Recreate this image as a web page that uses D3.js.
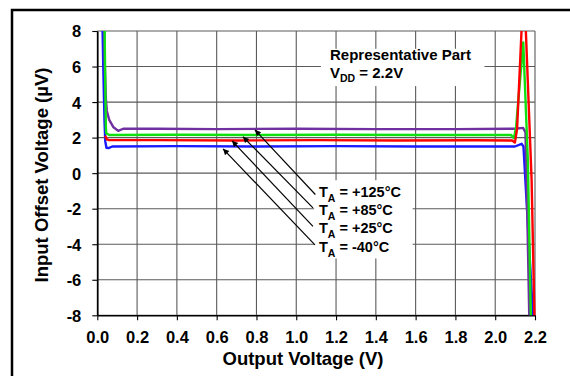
<!DOCTYPE html>
<html><head><meta charset="utf-8">
<script src="https://cdn.jsdelivr.net/npm/d3@7"></script>
<style>body{margin:0;background:#fff}svg{display:block;font-family:"Liberation Sans",Arial,sans-serif;font-weight:bold}</style>
</head><body>
<svg id="c" width="570" height="376"></svg>
<script>
const xTicks = [0.0,0.2,0.4,0.6,0.8,1.0,1.2,1.4,1.6,1.8,2.0,2.2];
const yTicks = [-8,-6,-4,-2,0,2,4,6,8];
const seriesNames = ["T125","T85","T25","Tm40"];
const seriesColors = ["#7030a0","#10e010","#ff0000","#1a1aff"];
const legendTemps = ["+125°C","+85°C","+25°C","-40°C"];
// [Vout, Vos µV]
const s125 = [[0.034,9],[0.038,6],[0.043,4.2],[0.048,3.5],[0.06,3.0],[0.08,2.6],[0.105,2.38],[0.13,2.5],[0.3,2.5],[0.6,2.48],[1.0,2.5],[1.4,2.48],[1.8,2.48],[2.1,2.5],[2.14,2.55],[2.152,2.3],[2.158,-0.4],[2.171,-8],[2.173,-9]];
const s85  = [[0.036,9],[0.04,5],[0.043,2.6],[0.045,2.25],[0.06,2.15],[0.4,2.16],[0.8,2.15],[1.2,2.16],[1.6,2.15],[2.08,2.15],[2.094,1.97],[2.105,2.6],[2.141,7.36],[2.164,0.75],[2.179,-8],[2.182,-9]];
const s25  = [[0.04,2.1],[0.048,1.9],[0.06,1.86],[0.3,1.86],[0.7,1.84],[1.1,1.86],[1.5,1.84],[1.9,1.85],[2.085,1.84],[2.099,1.72],[2.11,2.5],[2.133,8.2],[2.143,9],[2.154,8],[2.183,-0.4],[2.197,-8],[2.2,-9]];
const sm40 = [[0.025,9],[0.03,6],[0.036,3],[0.04,1.8],[0.046,1.43],[0.056,1.41],[0.075,1.5],[0.4,1.52],[0.8,1.5],[1.2,1.52],[1.6,1.5],[2.099,1.5],[2.133,1.65],[2.142,1.5],[2.19,-8],[2.195,-9]];
const seriesData = [s125, s85, s25, sm40];
// arrows: [start V, start µV, tip V, tip µV]
const arrows = [[1.096,-1.2,0.792,2.44],[1.084,-1.95,0.732,2.05],[1.084,-3.0,0.677,1.82],[1.094,-4.04,0.632,1.37]];

const svg = d3.select("#c");
const m = {l:97.3, r:535, t:31, b:315.3};
const x = d3.scaleLinear().domain([0,2.2]).range([m.l,m.r]);
const y = d3.scaleLinear().domain([-8,8]).range([m.b,m.t]);

// outer frame
svg.append("rect").attr("x",12).attr("y",10).attr("width",620).attr("height",420)
  .attr("fill","none").attr("stroke","#000").attr("stroke-width",2.5);

// grid
const g = svg.append("g");
g.selectAll("line.vx").data(xTicks).join("line")
  .attr("x1",d=>x(d)).attr("x2",d=>x(d)).attr("y1",m.t).attr("y2",m.b)
  .attr("stroke","#5a5a5a").attr("stroke-width",1.1);
g.selectAll("line.hy").data(yTicks).join("line")
  .attr("y1",d=>y(d)).attr("y2",d=>y(d)).attr("x1",m.l).attr("x2",m.r)
  .attr("stroke","#5a5a5a").attr("stroke-width",1.1);

// white boxes behind annotation text
svg.append("rect").attr("x",x(1.124)).attr("y",y(7.0)).attr("width",x(1.946)-x(1.124)).attr("height",y(4.9)-y(7.0)).attr("fill","#fff");
svg.append("rect").attr("x",x(1.09)).attr("y",y(-0.4)).attr("width",x(1.585)-x(1.09)).attr("height",y(-4.8)-y(-0.4)).attr("fill","#fff");

// axes
const xa = svg.append("g").attr("transform",`translate(0,${m.b})`)
  .call(d3.axisBottom(x).tickValues(xTicks).tickFormat(d3.format(".1f")).tickSize(5).tickSizeOuter(0));
const ya = svg.append("g").attr("transform",`translate(${m.l},0)`)
  .call(d3.axisLeft(y).tickValues(yTicks).tickFormat(d=>String(d)).tickSize(5).tickSizeOuter(0));
[xa,ya].forEach(a=>{
  a.select(".domain").attr("stroke","#000").attr("stroke-width",1.6);
  a.selectAll(".tick line").attr("stroke","#000").attr("stroke-width",1.1);
  a.selectAll("text").attr("fill","#000").style("font-size","16.5px").style("font-weight","bold").style("font-family","'Liberation Sans',Arial,sans-serif");
});
xa.selectAll("text").attr("dy",0).attr("y",28);
ya.selectAll("text").attr("x",-16).attr("dy","0.36em");

// clip
svg.append("clipPath").attr("id","clp").append("rect")
  .attr("x",m.l).attr("y",m.t).attr("width",m.r-m.l+3).attr("height",m.b-m.t);

const line = d3.line().x(d=>x(d[0])).y(d=>y(d[1]));
const drawOrder = [3,0,1,2];
const cg = svg.append("g").attr("clip-path","url(#clp)");
drawOrder.forEach(i=>{
  cg.append("path").datum(seriesData[i]).attr("d",line)
    .attr("fill","none").attr("stroke",seriesColors[i]).attr("stroke-width",2.4)
    .attr("stroke-linejoin","round");
});

// arrows
svg.append("defs").append("marker").attr("id","ah").attr("viewBox","0 0 10 10")
  .attr("refX",10).attr("refY",5).attr("markerWidth",9).attr("markerHeight",6)
  .attr("orient","auto").attr("markerUnits","userSpaceOnUse")
  .append("path").attr("d","M0,0 L10,5 L0,10 Z").attr("fill","#000");
svg.selectAll("line.arr").data(arrows).join("line")
  .attr("x1",d=>x(d[0])).attr("y1",d=>y(d[1])).attr("x2",d=>x(d[2])).attr("y2",d=>y(d[3]))
  .attr("stroke","#000").attr("stroke-width",1.2).attr("marker-end","url(#ah)");

// annotation text
svg.append("text").attr("x",330).attr("y",60).style("font-size","15px").text("Representative Part");
const t2 = svg.append("text").attr("x",330).attr("y",78).style("font-size","15px");
t2.append("tspan").text("V");
t2.append("tspan").attr("dy",4).style("font-size","10.5px").text("DD");
t2.append("tspan").attr("dy",-4).text(" = 2.2V");

// legend
legendTemps.forEach((t,i)=>{
  const tx = svg.append("text").attr("x",319).attr("y",197+i*18.2).style("font-size","14.5px");
  tx.append("tspan").text("T");
  tx.append("tspan").attr("dy",5).style("font-size","10.5px").text("A");
  tx.append("tspan").attr("dy",-5).text(" = " + t);
});

// axis titles
svg.append("text").attr("x",303).attr("y",365).attr("text-anchor","middle").style("font-size","18.5px").text("Output Voltage (V)");
svg.append("text").attr("transform","translate(48,175) rotate(-90)").attr("text-anchor","middle").style("font-size","18.5px").text("Input Offset Voltage (µV)");
</script>
</body></html>
